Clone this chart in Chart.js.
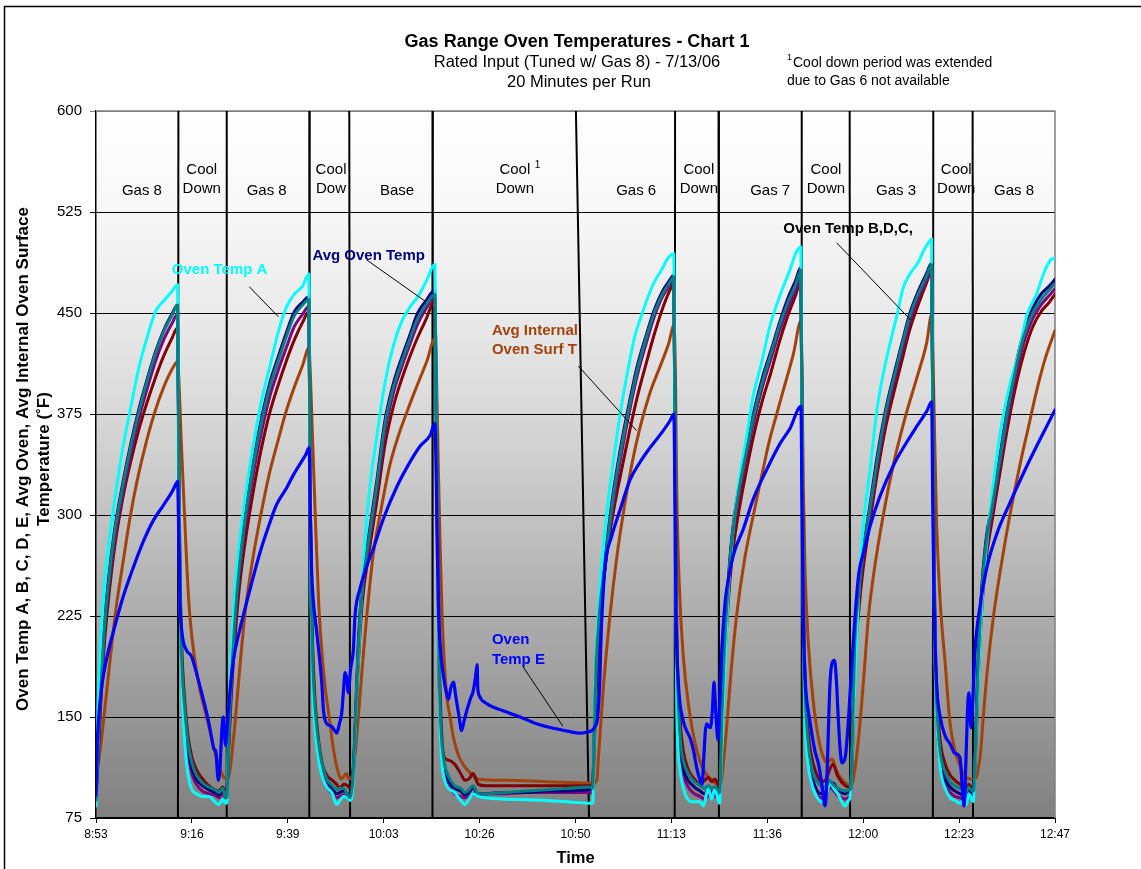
<!DOCTYPE html>
<html><head><meta charset="utf-8">
<script src="https://cdn.jsdelivr.net/npm/chart.js@4.4.0/dist/chart.umd.min.js"></script>
<style>html,body{margin:0;padding:0;background:#fff;}canvas{display:block;}</style>
</head><body>
<canvas id="c" width="1141" height="869"></canvas>
<script>
const FONT = '"Liberation Sans", Arial, Helvetica, sans-serif';

// ---- axis ticks (minutes after 8:53) ----
const tickMinutes = [0, 23.4, 46.8, 70.2, 93.6, 117, 140.4, 163.8, 187.2, 210.6, 234];
const tickLabels = ['8:53','9:16','9:39','10:03','10:26','10:50','11:13','11:36','12:00','12:23','12:47'];
const yTickValues = [75, 150, 225, 300, 375, 450, 525, 600];

// ---- run phases: boundary minutes [at 600, at 75] ----
const phaseBounds = [[20.1,20.0],[31.9,31.9],[52.15,52.05],[61.8,62.0],[82.2,82.1],[117.1,120.3],
  [141.3,141.2],[151.9,152.0],[172.2,172.2],[183.9,184.0],[204.3,204.2],[213.9,214.0]];
const phaseLabels = [['Gas 8'],['Cool','Down'],['Gas 8'],['Cool','Dow'],['Base'],['Cool','Down'],
  ['Gas 6'],['Cool','Down'],['Gas 7'],['Cool','Down'],['Gas 3'],['Cool','Down'],['Gas 8']];
const phaseCenters = [11.2, 25.8, 41.65, 57.35, 73.45, 102.2, 131.8, 147.1, 164.5, 178.1, 195.2, 209.9, 224.0];

// ---- shared sample times for the B, C, D and average oven traces ----
const clusterMinutes = [
 0,0.5,1,2,3,4.5,6.5,8.5,10.5,12.5,14.5,16.5,18.5,19.9,
 20.2,20.5,20.9,21.7,22.5,23.4,24.5,26,27.5,29,30,30.9,31.6,
 31.9,32.4,32.9,33.9,34.9,36.4,38.4,40.4,42.4,44.4,46.4,48.4,50.4,51.95,
 52.2,52.5,52.9,53.5,54.5,55.5,56.5,57.7,58.7,59.5,60.4,61.4,
 62,62.5,63,64,65,66.5,68.5,70.5,72.5,74.5,76.5,78.5,80.5,82.7,
 83,83.4,83.8,84.3,85,86,87.5,89,90,91,92,93.3,95,100,105,110,115,120.4,
 121.2,121.5,122,122.8,124,126,128,130.1,132.1,134.2,136.2,138.2,139.9,141,
 141.3,141.7,142.5,143.3,144.5,146,147.4,148.5,149.4,150.2,151,151.9,
 152.2,152.7,153.2,154.2,155.2,156.7,158.7,160.7,162.7,164.7,166.7,168.7,170.7,172,
 172.3,172.6,173,173.8,174.5,175.5,177,178.2,178.9,179.8,181,182.8,183.6,
 184.1,184.6,185.1,186.1,187.1,188.6,190.6,192.6,194.6,196.6,198.6,200.6,202.6,203.9,
 204.2,204.5,204.8,205.2,206,207.2,208.4,209.6,210.8,211.6,212.4,212.9,213.5,
 214.1,214.6,215.1,216.1,217.1,218.6,220.6,222.6,224.6,226.6,228.6,230.6,232.6,234];

const avgOvenTemp = [
 90,125,160,215,250,288,323,353,379,401,421,437,449,456,
 340,245,190,150,126,112,104,99,96,94,92,95,92,
 92,135,172,225,262,300,340,372,398,417,435,451,458,462,
 340,240,185,150,122,108,101,97,93,94,95,93,
 92,100,125,205,250,283,325,370,397,416,433,450,459,467,
 380,260,170,130,112,103,97,95,92,94,97,93,93,94,94,95,95,96,
 96,130,188,229,262,312,350,383,411,433,452,466,474,478,
 340,200,130,112,103,98,95,93,96,94,96,93,
 92,150,195,248,285,318,350,379,403,422,442,460,474,484,
 340,230,165,125,110,98,93,95,100,101,96,93,94,
 95,140,205,245,272,302,343,377,403,427,450,466,479,487,
 360,260,190,150,118,104,98,95,93,92,89,96,94,
 93,130,180,245,280,308,345,383,414,438,454,464,470,475];

const ovenTempB = [
 88,123,158,213,248,286,321,351,377,400,420,436,448,456,
 345,250,195,155,130,116,107,101,98,96,94,97,90,
 90,133,170,222,259,297,337,369,395,414,432,448,456,460,
 345,245,190,155,126,111,103,99,96,97,97,92,
 90,98,122,200,246,280,322,367,394,413,430,446,456,464,
 385,265,175,135,116,106,99,97,94,96,99,93,93,94,95,96,97,98,
 97,128,185,226,259,309,347,380,408,431,450,464,472,477,
 345,210,138,118,108,102,99,97,99,97,98,95,
 94,148,192,245,282,315,347,376,400,420,440,457,471,482,
 345,240,172,130,115,104,99,98,103,100,97,95,96,
 96,138,202,242,270,300,340,375,401,425,448,464,477,486,
 365,265,196,156,124,109,102,99,97,96,94,98,96,
 95,128,178,242,277,305,342,380,411,435,450,460,467,472];

const ovenTempC = [
 90,122,155,210,244,281,316,346,372,394,414,430,442,449,
 330,240,185,145,122,108,100,95,93,92,90,93,90,
 90,130,166,217,254,291,331,362,388,407,424,440,449,455,
 335,235,180,146,118,104,97,93,90,91,92,90,
 90,97,120,198,244,277,318,362,390,409,426,442,453,462,
 375,255,165,125,108,99,93,91,90,91,93,93,93,93,94,94,94,94,
 93,126,182,222,255,304,342,376,404,427,447,462,470,475,
 335,195,126,108,98,93,91,89,92,90,92,89,
 89,146,190,242,279,311,343,372,396,416,436,453,467,478,
 335,225,160,120,105,95,90,92,98,96,92,89,90,
 91,136,200,239,266,296,336,371,397,421,444,461,474,483,
 355,255,185,145,114,100,94,91,90,89,87,92,90,
 90,126,175,239,273,301,338,375,406,430,446,456,463,468];

const ovenTempD = [
 92,118,150,203,236,275,312,340,364,384,402,418,431,439,
 350,260,205,160,135,120,111,104,99,96,95,98,95,
 95,128,160,208,244,280,318,350,376,396,414,430,443,451,
 350,255,200,160,128,112,106,103,100,97,100,99,
 97,100,118,190,236,270,310,352,380,400,417,432,445,459,
 390,280,190,140,120,118,115,108,103,104,108,100,99,99,99,99,99,99,
 99,120,165,210,255,298,330,361,388,412,434,453,466,472,
 350,220,150,125,111,104,100,103,105,102,104,99,
 97,140,180,232,268,300,333,362,386,406,428,447,463,474,
 350,245,180,138,122,110,102,104,110,115,106,99,98,
 98,125,185,228,258,290,330,364,390,414,438,456,472,481,
 365,270,205,165,132,115,107,103,100,98,96,100,98,
 96,120,165,228,265,295,332,368,398,422,440,451,458,464];

// ---- [minute, °F] traces ----
const ovenTempA = [
 [0,84],[0.5,155],[1,195],[2,248],[3,276],[4.5,310],[6.5,349],[8.5,380],[10.5,410],[12.5,432],[14.5,451],[16.5,459],[18.5,466],[19.9,471],
 [20.2,330],[20.5,240],[20.9,180],[21.7,130],[22.5,106],[23.4,96],[24.5,93],[26,91],[27.5,91],[29,87],[30,85],[30.9,89],[31.6,86],
 [31.9,86],[32.4,150],[32.9,192],[33.9,243],[34.9,277],[36.4,313],[38.4,352],[40.4,385],[42.4,410],[44.4,435],[46.4,454],[48.4,464],[50.4,470],[51.95,479],
 [52.2,330],[52.5,230],[52.9,170],[53.5,140],[54.5,115],[55.5,103],[56.5,97],[57.7,93],[58.7,85],[59.5,88],[60.4,91],[61.3,90],[61.8,89],
 [62,88],[62.5,92],[63,118],[64,195],[65,252],[66.5,312],[68.5,358],[70.5,398],[72.5,425],[74.5,443],[76.5,454],[78.5,462],[80.5,473],[82.7,486],
 [83,380],[83.4,250],[83.8,160],[84.3,120],[85,104],[86,97],[87.5,94],[89,88],[90,85],[91,89],[92,93],[93.3,91],[95,90],[100,89],[105,88.5],[110,88],[115,87],[120.4,86],
 [121.2,86],[121.5,125],[121.8,175],[122.6,229],[123.4,262],[124.6,301],[126.2,339],[127.9,375],[129.5,403],[131.5,433],[133.2,449],[135.2,466],[136.4,474],[138,482],[139.4,490],[141,494],
 [141.3,330],[141.7,161],[142.5,111],[143.5,95],[145.4,87],[147.4,87],[148.2,84],[149.4,97],[150.2,89],[151,97],[151.9,87],
 [152.2,86],[152.5,110],[153.1,161],[154.3,243],[155.5,290],[157.1,328],[158.8,359],[160.4,389],[162.4,413],[164.5,441],[166.9,463],[169.3,482],[171,496],[172,499],
 [172.3,330],[172.6,220],[173,150],[173.8,114],[174.5,102],[175.5,93],[177,87],[178.2,92],[179.1,101],[180,97],[181,93],[182.8,84],[183.6,88],
 [184.1,92],[184.6,130],[185.2,178],[186,235],[187.2,292],[188.9,334],[190.5,377],[192.1,405],[193.8,428],[195.4,448],[197,469],[198.6,479],[200.7,488],[201.9,496],[203.1,502],[203.9,505],
 [204.2,340],[204.5,240],[204.8,180],[205.2,145],[206,112],[207.2,97],[208.4,90],[209.6,88],[210.8,86],[211.6,88],[212.4,85],[212.9,93],[213.5,90],
 [214.1,87],[214.5,115],[214.9,150],[215.7,206],[216.5,249],[217.8,292],[219.4,334],[221,368],[223,397],[225.1,420],[227.1,448],[229.5,464],[231.2,479],[232.8,489],[234,491]];

const avgInternalSurf = [
 [0,105],[1,125],[2,152],[3,180],[4,208],[5,233],[6.5,263],[8.3,298],[10,325],[12,351],[14.2,375],[16.4,394],[18.9,410],[19.9,414],
 [20.3,395],[20.8,355],[21.6,300],[22.2,260],[22.9,225],[24,195],[25.5,168],[27,150],[28.5,130],[30,114],[31,106],[31.9,104],
 [32.4,106],[32.9,115],[33.9,145],[34.9,180],[36.4,228],[38.4,270],[40.4,303],[42.4,332],[44.4,355],[46.4,377],[48.4,395],[50.4,411],[51.95,424],
 [52.3,405],[52.8,360],[53.5,300],[54.3,237],[55.2,195],[56,170],[56.9,150],[58,125],[59,110],[59.8,104],[60.5,106],[61.1,108],[61.7,104],[62.3,105],
 [62.8,112],[63.4,128],[64,150],[65,188],[66,223],[67.7,272],[69.3,300],[71.7,337],[73.8,359],[75.8,376],[77.8,392],[80.7,414],[82.7,431],
 [83.1,400],[83.5,340],[83.9,285],[84.4,230],[84.9,195],[85.6,165],[86.4,150],[87.2,135],[88.5,121],[90,113],[91.5,108],[93,104],[100,103],[110,102],[120.5,101],[121.5,101],
 [122.2,103],[122.6,120],[123.8,172],[125.4,225],[127.05,268],[128.7,302],[130.7,337],[132.75,365],[135.2,391],[137.6,410],[139.7,427],[141.05,441],
 [141.4,400],[141.7,320],[142.3,250],[143.3,195],[144.9,152],[146.2,130],[147.4,117],[148.6,109],[150,104],[151,101],[152,100],
 [152.5,101],[153,113],[153.9,143],[155,185],[156.3,225],[158.2,266],[160.4,300],[162.5,330],[164.3,355],[166.1,375],[168.2,398],[170.2,420],[172,444],
 [172.3,400],[172.6,320],[173,260],[173.8,205],[175,162],[176.3,134],[177.5,120],[178.5,116],[179.6,119],[180.7,110],[182.2,103],[183.6,100],[184.5,100],
 [185,108],[185.6,121],[186.5,148],[187.3,178],[188.5,225],[189.7,255],[192.1,300],[194.6,338],[197.4,372],[200.3,402],[202.7,428],[203.9,449],
 [204.2,420],[204.5,377],[205.1,295],[206,235],[207.2,190],[208.4,145],[209.6,125],[210.8,114],[212,106],[213.3,104],[214.3,104],
 [214.8,105],[215.3,112],[215.8,122],[216.5,150],[217.5,185],[219,225],[221,265],[223,300],[225.5,338],[227.5,365],[229.5,392],[231.5,415],[234,437]];

const ovenTempE = [
 [0,92],[0.3,130],[0.8,155],[1.5,175],[2.5,192],[3.5,205],[5,222],[6.7,240],[9.1,261],[11.5,280],[14,296],[16.4,307],[18.5,317],[19.5,323],[19.9,325],
 [20.2,285],[20.5,235],[21,212],[22,200],[23.3,195],[25,177],[26.6,158],[27.5,146],[28.2,135],[28.8,126],[29.2,125],[29.85,103],[30.3,115],[30.7,140],[31.06,150],[31.6,129],
 [32.2,150],[32.7,170],[33.5,192],[35.1,215],[37.6,245],[40,272],[42.5,295],[44.1,308],[46.5,320],[48.2,330],[49.8,338],[51.2,345],[52,350],
 [52.3,300],[52.6,260],[53,237],[53.9,212],[55.1,175],[55.5,155],[56.3,145],[57.5,143],[58.2,140],[58.74,138],[59.4,145],[59.96,153],[60.4,170],[60.77,183],[61.2,178],[61.57,168],[62.1,185],[62.8,200],
 [63.2,225],[64.4,245],[66.05,262],[67.67,275],[70.1,297],[73.4,321],[75.8,335],[79.06,351],[81.5,359],[82.7,368],
 [83,330],[83.3,270],[83.7,220],[84.2,195],[84.8,180],[85.5,168],[86,163],[86.6,172],[87.2,176],[87.8,165],[88.6,150],[89.2,140],[89.8,147],[90.5,155],[91.3,163],[92.1,170],[92.6,180],[93,189],[93.15,172],[93.5,166],[95.3,160],[99,155],[103.5,150],[107.5,145],[111.6,141.6],[115,139.5],[118.1,138],[120,139],[121,140],[121.8,143],[122.4,150],[122.9,175],[123.3,215],[123.8,245],[124.3,265],
 [125.8,284],[127.9,304],[130.3,326],[132.7,339],[135.2,350],[138,361],[140.06,370],[141,375],
 [141.3,300],[141.5,230],[142.1,175],[143.3,147],[144.1,140],[145,134],[145.8,125],[146.6,112],[147.4,103],[147.9,100],[148.3,120],[148.7,140],[149,145],[149.5,143],[149.9,142],[150.4,155],[150.8,176],[151.1,162],[151.5,140],[151.8,133],[152.2,160],[152.7,200],[153.5,235],
 [153.9,245],[155.5,270],[158,290],[160.4,312],[163.7,334],[166.9,353],[169.3,364],[172,380.6],
 [172.3,300],[172.6,220],[173,180],[174.2,147],[175.4,125],[176.3,115],[177.1,100],[177.9,84],[178.3,100],[178.7,140],[179.1,175],[179.6,190],[180.2,192],[180.7,175],[181.1,150],[181.6,125],[182,116],[182.8,120],[183.6,148],[184.4,188],[185.6,240],
 [186.2,258],[187.25,272],[188.9,292],[191.3,314],[194.6,337],[197.8,354],[200.3,366],[202.7,377],[203.9,384],
 [204.2,300],[204.5,235],[205.1,175],[206,150],[207.2,136],[208.4,130],[209.6,123],[210.8,120],[211.5,92],[211.8,84],[212.3,121],[212.6,150],[212.95,168],[213.2,160],[213.5,142],[213.9,160],[214.5,200],[215.7,232],[217.3,260],
 [219.8,286],[223,309],[226.3,331],[229.5,351],[232,366],[234,378]];

// ---- annotation texts ----
const annotations = [
  {lines:['Oven Temp A'], color:'#00FFFF', at:[18.5,481.9], leader:[[37.4,469.5],[44.5,447.3]]},
  {lines:['Avg Oven Temp'], color:'#000080', at:[52.8,492.3], leader:[[66.05,489.4],[80.5,458.4]]},
  {lines:['Avg Internal','Oven Surf T'], color:'#A3420A', at:[96.6,436.9], leader:[[117.7,410.6],[131.9,362.7]]},
  {lines:['Oven Temp B,D,C,'], color:'#000000', at:[167.7,512.2], leader:[[180.7,502.2],[198.8,444.8]]},
  {lines:['Oven','Temp E'], color:'#0000FF', at:[96.6,207.2], leader:[[104.2,187.3],[113.9,143.2]]}
];

const pairsXY = p => p.map(([x, y]) => ({x, y}));
const zipXY = (xs, ys) => xs.map((x, i) => ({x, y: ys[i]}));

function trace(label, data, color, order, width) {
  return { label, data, borderColor: color, backgroundColor: color, borderWidth: width || 3,
    pointRadius: 0, fill: false, cubicInterpolationMode: 'monotone', order,
    borderJoinStyle: 'round', borderCapStyle: 'round' };
}

const datasets = [
  trace('Avg Internal Oven Surf T', pairsXY(avgInternalSurf), '#A3420A', 7),
  trace('Oven Temp D', zipXY(clusterMinutes, ovenTempD), '#800000', 6),
  trace('Oven Temp C', zipXY(clusterMinutes, ovenTempC), '#800080', 5),
  trace('Avg Oven Temp', zipXY(clusterMinutes, avgOvenTemp), '#000080', 4),
  trace('Oven Temp A', pairsXY(ovenTempA), '#00FFFF', 3),
  trace('Oven Temp B', zipXY(clusterMinutes, ovenTempB), '#008080', 2),
  trace('Oven Temp E', pairsXY(ovenTempE), '#0000FF', 1, 3.2)
];
phaseBounds.forEach(([t, b], i) => datasets.push({
  label: 'phase' + i, data: [{x: t, y: 600}, {x: b, y: 75}], borderColor: '#000', borderWidth: 2,
  pointRadius: 0, tension: 0, order: 50
}));

function text(ctx, s, x, y, font, color, align) {
  ctx.font = font; ctx.fillStyle = color; ctx.textAlign = align || 'center'; ctx.textBaseline = 'middle';
  ctx.fillText(s, x, y);
}

const decor = {
  id: 'decor',
  beforeDraw(chart) {
    const {ctx, chartArea: a} = chart;
    ctx.save();
    ctx.fillStyle = '#fff'; ctx.fillRect(0, 0, chart.width, chart.height);
    const g = ctx.createLinearGradient(0, a.top, 0, a.bottom);
    [[0,'#ffffff'],[1/7,'#f7f7f7'],[2/7,'#eaeaea'],[3/7,'#d8d8d8'],[4/7,'#c3c3c3'],[5/7,'#adadad'],[6/7,'#979797'],[1,'#808080']]
      .forEach(([o, c]) => g.addColorStop(o, c));
    ctx.fillStyle = g; ctx.fillRect(a.left, a.top, a.right - a.left, a.bottom - a.top);
    ctx.strokeStyle = '#000'; ctx.lineWidth = 1.5;
    ctx.beginPath(); ctx.moveTo(4.5, chart.height); ctx.lineTo(4.5, 6.5); ctx.lineTo(chart.width, 6.5); ctx.stroke();
    ctx.restore();
  },
  beforeDatasetsDraw(chart) {
    const {ctx, chartArea: a} = chart;
    ctx.save(); ctx.strokeStyle = '#808080'; ctx.lineWidth = 1.5;
    ctx.beginPath(); ctx.moveTo(a.left, a.top); ctx.lineTo(a.right, a.top); ctx.lineTo(a.right, a.bottom); ctx.stroke();
    ctx.restore();
  },
  afterDatasetsDraw(chart) {
    const {ctx, chartArea: a, scales: {x: xs, y: ys}} = chart;
    ctx.save();
    // titles
    text(ctx, 'Gas Range Oven Temperatures - Chart 1', 577, 42, `bold 18px ${FONT}`, '#000');
    text(ctx, 'Rated Input (Tuned w/ Gas 8) - 7/13/06', 577, 62, `16.5px ${FONT}`, '#000');
    text(ctx, '20 Minutes per Run', 579, 82, `16.5px ${FONT}`, '#000');
    text(ctx, '1', 787, 58, `9px ${FONT}`, '#000', 'left');
    text(ctx, 'Cool down period was extended', 793, 63, `14px ${FONT}`, '#000', 'left');
    text(ctx, 'due to Gas 6 not available', 787, 81, `14px ${FONT}`, '#000', 'left');
    // axis titles
    const cy = 459;
    ctx.save(); ctx.translate(23, cy); ctx.rotate(-Math.PI / 2);
    text(ctx, 'Oven Temp A, B, C, D, E, Avg Oven, Avg Internal Oven Surface', 0, 0, `bold 17px ${FONT}`, '#000');
    ctx.restore();
    ctx.save(); ctx.translate(44, cy); ctx.rotate(-Math.PI / 2);
    text(ctx, 'Temperature (\u02DAF)', 0, 0, `bold 17px ${FONT}`, '#000');
    ctx.restore();
    text(ctx, 'Time', (a.left + a.right) / 2, 858, `bold 16.5px ${FONT}`, '#000');
    // phase labels
    phaseLabels.forEach((lines, i) => {
      const x = xs.getPixelForValue(phaseCenters[i]);
      if (lines.length === 1) {
        text(ctx, lines[0], x, ys.getPixelForValue(541), `15px ${FONT}`, '#000');
      } else {
        text(ctx, lines[0], x, ys.getPixelForValue(556.5), `15px ${FONT}`, '#000');
        text(ctx, lines[1], x, ys.getPixelForValue(542), `15px ${FONT}`, '#000');
        if (i === 5) text(ctx, '1', x + 20, ys.getPixelForValue(560), `10px ${FONT}`, '#000', 'left');
      }
    });
    // annotations
    annotations.forEach(an => {
      const x0 = xs.getPixelForValue(an.at[0]);
      an.lines.forEach((s, k) => {
        text(ctx, s, x0, ys.getPixelForValue(an.at[1]) + k * 19.5, `bold 15px ${FONT}`, an.color, 'left');
      });
      ctx.strokeStyle = '#000'; ctx.lineWidth = 1;
      ctx.beginPath();
      ctx.moveTo(xs.getPixelForValue(an.leader[0][0]), ys.getPixelForValue(an.leader[0][1]));
      ctx.lineTo(xs.getPixelForValue(an.leader[1][0]), ys.getPixelForValue(an.leader[1][1]));
      ctx.stroke();
    });
    ctx.restore();
  }
};

new Chart(document.getElementById('c'), {
  type: 'line',
  data: { datasets },
  options: {
    responsive: false, animation: false, devicePixelRatio: 1,
    layout: { padding: { left: 6, right: 86, top: 111, bottom: 31 } },
    plugins: { legend: { display: false }, tooltip: { enabled: false }, title: { display: false } },
    scales: {
      x: {
        type: 'linear', min: 0, max: 234,
        afterBuildTicks: s => { s.ticks = tickMinutes.map(v => ({ value: v })); },
        afterFit: s => { s.height = 20; },
        ticks: { autoSkip: false, maxRotation: 0, padding: 4, color: '#000',
                 font: { family: FONT, size: 12 }, callback: (v, i) => tickLabels[i] },
        grid: { display: true, drawOnChartArea: false, color: '#000', tickLength: 5 },
        border: { display: true, color: '#000', width: 1.5 }
      },
      y: {
        min: 75, max: 600,
        afterBuildTicks: s => { s.ticks = yTickValues.map(v => ({ value: v })); },
        afterFit: s => { s.width = 90; },
        ticks: { padding: 8, color: '#000', font: { family: FONT, size: 15 } },
        grid: { color: c => (c.tick && c.tick.value === 600) ? '#808080' : '#000', lineWidth: 1, tickLength: 6 },
        border: { display: true, color: '#000', width: 1.5 }
      }
    }
  },
  plugins: [decor]
});
</script>
</body></html>
